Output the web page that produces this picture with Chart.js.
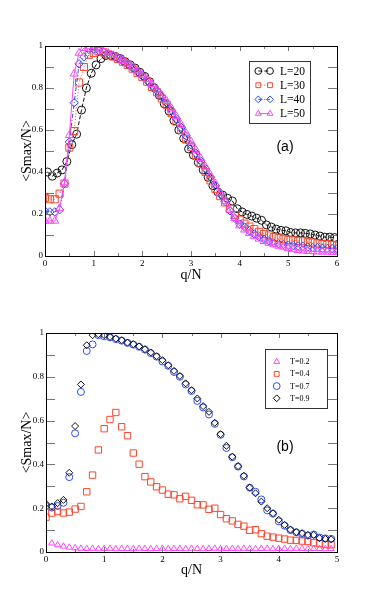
<!DOCTYPE html>
<html>
<head>
<meta charset="utf-8">
<script src="https://cdn.jsdelivr.net/npm/chart.js@4.4.0/dist/chart.umd.min.js"></script>
<style>
html, body { margin: 0; padding: 0; background: #fff; }
#wrap { position: relative; width: 382px; height: 602px; }
canvas { position: absolute; left: 0; }
</style>
</head>
<body>
<div id="wrap">
<canvas id="chartA" width="382" height="300" style="top:0;width:382px;height:300px"></canvas>
<canvas id="chartB" width="382" height="302" style="top:300px;width:382px;height:302px"></canvas>
</div>
<script>
// ---- panel (a): <Smax/N> vs q/N for several L ----
var labelsA = ["L=20", "L=30", "L=40", "L=50"];
var xTicksA = [0, 1, 2, 3, 4, 5, 6];

// L=20 sampled at q = 0.05, 0.15, ... 5.95
var smaxL20 = [0.40, 0.38, 0.395, 0.41, 0.45, 0.53, 0.58, 0.695, 0.80, 0.87,
    0.91, 0.94, 0.955, 0.955, 0.95, 0.94, 0.925, 0.91, 0.895, 0.875,
    0.855, 0.83, 0.80, 0.765, 0.725, 0.69, 0.645, 0.60, 0.56, 0.51,
    0.48, 0.445, 0.41, 0.375, 0.335, 0.305, 0.29, 0.275, 0.262, 0.225,
    0.21, 0.198, 0.19, 0.18, 0.17, 0.148, 0.138, 0.128, 0.122, 0.12,
    0.112, 0.11, 0.11, 0.108, 0.105, 0.10, 0.095, 0.09, 0.09, 0.088];
// the others at q = 0, 0.1, ... 6
var smaxL30 = [0.276, 0.27, 0.27, 0.297, 0.345, 0.516, 0.595, 0.826, 0.90, 0.958,
    0.967, 0.975, 0.97, 0.96, 0.95, 0.938, 0.925, 0.91, 0.892, 0.872,
    0.852, 0.83, 0.805, 0.78, 0.75, 0.72, 0.68, 0.64, 0.60, 0.555,
    0.52, 0.48, 0.44, 0.40, 0.36, 0.32, 0.285, 0.255, 0.225, 0.195,
    0.173, 0.154, 0.14, 0.128, 0.115, 0.105, 0.098, 0.09, 0.085, 0.08,
    0.077, 0.075, 0.072, 0.07, 0.066, 0.064, 0.06, 0.058, 0.056, 0.053, 0.05];
var smaxL40 = [0.214, 0.21, 0.21, 0.22, 0.345, 0.543, 0.73, 0.915, 0.948, 0.984,
    0.985, 0.98, 0.972, 0.963, 0.953, 0.941, 0.927, 0.912, 0.895, 0.877,
    0.857, 0.835, 0.812, 0.786, 0.758, 0.728, 0.692, 0.653, 0.612, 0.572,
    0.53, 0.49, 0.452, 0.415, 0.375, 0.335, 0.295, 0.26, 0.215, 0.18,
    0.152, 0.138, 0.12, 0.105, 0.092, 0.08, 0.072, 0.062, 0.058, 0.055,
    0.052, 0.05, 0.048, 0.046, 0.043, 0.04, 0.039, 0.037, 0.036, 0.035, 0.034];
var smaxL50 = [0.167, 0.167, 0.167, 0.227, 0.35, 0.575, 0.868, 0.967, 0.99, 1.0,
    0.99, 0.983, 0.975, 0.966, 0.956, 0.945, 0.931, 0.916, 0.90, 0.882,
    0.862, 0.841, 0.818, 0.793, 0.766, 0.737, 0.702, 0.665, 0.625, 0.585,
    0.545, 0.505, 0.465, 0.425, 0.385, 0.345, 0.30, 0.26, 0.22, 0.18,
    0.145, 0.125, 0.108, 0.095, 0.082, 0.07, 0.062, 0.055, 0.048, 0.043,
    0.037, 0.032, 0.028, 0.025, 0.023, 0.022, 0.021, 0.02, 0.02, 0.019, 0.019];

// ---- panel (b): <Smax/N> vs q/N for several T ----
var labelsB = ["T=0.2", "T=0.4", "T=0.7", "T=0.9"];
var xTicksB = [0, 1, 2, 3, 4, 5];

// T=0.2 sampled at q = 0.1 ... 4.9
var smaxT02 = [0.04, 0.032, 0.026, 0.021, 0.018, 0.016, 0.015, 0.016, 0.014, 0.015,
    0.016, 0.014, 0.015, 0.015, 0.014, 0.016, 0.015, 0.014, 0.015, 0.016,
    0.014, 0.015, 0.015, 0.014, 0.016, 0.015, 0.014, 0.015, 0.016, 0.014,
    0.015, 0.015, 0.014, 0.016, 0.015, 0.014, 0.015, 0.016, 0.014, 0.015,
    0.015, 0.014, 0.016, 0.015, 0.014, 0.015, 0.015, 0.014, 0.015];
// the others at q = 0 ... 4.9
var smaxT04 = [0.159, 0.178, 0.185, 0.178, 0.182, 0.196, 0.208, 0.275, 0.351, 0.466,
    0.563, 0.605, 0.637, 0.572, 0.531, 0.452, 0.401, 0.344, 0.32, 0.298,
    0.283, 0.264, 0.261, 0.243, 0.254, 0.236, 0.216, 0.215, 0.195, 0.20,
    0.171, 0.152, 0.142, 0.126, 0.118, 0.099, 0.102, 0.084, 0.072, 0.068,
    0.063, 0.059, 0.054, 0.053, 0.05, 0.048, 0.042, 0.038, 0.034, 0.033];
var smaxT07 = [0.21, 0.203, 0.21, 0.225, 0.342, 0.542, 0.731, 0.918, 0.948, 0.99,
    0.985, 0.98, 0.972, 0.965, 0.955, 0.947, 0.937, 0.924, 0.908, 0.892,
    0.87, 0.85, 0.822, 0.80, 0.765, 0.735, 0.69, 0.66, 0.628, 0.585,
    0.535, 0.475, 0.433, 0.39, 0.345, 0.294, 0.275, 0.24, 0.19, 0.175,
    0.14, 0.12, 0.10, 0.09, 0.083, 0.075, 0.08, 0.066, 0.062, 0.06];
var smaxT09 = [0.22, 0.208, 0.223, 0.238, 0.362, 0.575, 0.765, 0.944, 0.99, 0.994,
    0.99, 0.982, 0.974, 0.967, 0.956, 0.949, 0.939, 0.926, 0.911, 0.894,
    0.876, 0.853, 0.827, 0.804, 0.77, 0.739, 0.701, 0.666, 0.64, 0.59,
    0.538, 0.485, 0.435, 0.392, 0.348, 0.294, 0.268, 0.23, 0.20, 0.177,
    0.147, 0.124, 0.102, 0.091, 0.086, 0.078, 0.078, 0.063, 0.06, 0.058];

var BLACK = "#111111";
var RED = "rgb(255,70,45)";
var BLUE = "rgb(45,75,255)";
var MAGENTA = "rgb(255,70,255)";
var SERIF = "'Liberation Serif', 'DejaVu Serif', serif";
var SANS = "'Liberation Sans', Arial, sans-serif";

// q grid: start + i*0.1
function points(start, values) {
    var out = [];
    for (var i = 0; i < values.length; i++) {
        out.push({ x: Math.round((start + i * 0.1) * 100) / 100, y: values[i] });
    }
    return out;
}

function drawMarker(ctx, style, r, x, y) {
    if (Chart.helpers && Chart.helpers.drawPoint) {
        Chart.helpers.drawPoint(ctx, { pointStyle: style, radius: r, rotation: 0, borderWidth: 1 }, x, y);
        return;
    }
    ctx.beginPath();
    ctx.arc(x, y, r, 0, Math.PI * 2);
    ctx.stroke();
}

// inward ticks on all four sides plus the frame
var frameTicks = {
    id: 'frameTicks',
    afterDatasetsDraw: function (chart, args, opts) {
        var ctx = chart.ctx, a = chart.chartArea;
        var xs = chart.scales.x, ys = chart.scales.y;
        ctx.save();
        ctx.lineWidth = 1;
        ctx.strokeStyle = "#777";
        ctx.beginPath();
        var n = Math.round((xs.max - xs.min) / 0.5);
        for (var i = 0; i <= n; i++) {
            var v = xs.min + i * 0.5;
            var px = Math.round(xs.getPixelForValue(v)) + 0.5;
            var len = (i % 2 === 0) ? 5 : 3;
            ctx.moveTo(px, a.bottom); ctx.lineTo(px, a.bottom - len);
            ctx.moveTo(px, a.top); ctx.lineTo(px, a.top + len);
        }
        for (var j = 0; j <= 10; j++) {
            var py = Math.round(ys.getPixelForValue(j / 10)) + 0.5;
            ctx.moveTo(a.left, py); ctx.lineTo(a.left + 9, py);
            ctx.moveTo(a.right, py); ctx.lineTo(a.right - 9, py);
        }
        ctx.stroke();
        ctx.strokeStyle = "#000";
        ctx.strokeRect(a.left + 0.5, a.top + 0.5, a.right - a.left, a.bottom - a.top);
        ctx.restore();
    }
};

// legend box inside the plot and the panel tag
var boxLegend = {
    id: 'boxLegend',
    afterDraw: function (chart, args, opts) {
        var ctx = chart.ctx;
        ctx.save();
        ctx.fillStyle = "#fff";
        ctx.fillRect(opts.x, opts.y, opts.w, opts.h);
        ctx.strokeStyle = "#333";
        ctx.lineWidth = 1;
        ctx.strokeRect(opts.x + 0.5, opts.y + 0.5, opts.w, opts.h);
        var ds = chart.data.datasets;
        ctx.font = opts.font;
        ctx.textBaseline = "middle";
        ctx.textAlign = "left";
        for (var i = 0; i < ds.length; i++) {
            var y = opts.y + opts.first + i * opts.step;
            ctx.strokeStyle = ds[i].pointBorderColor;
            ctx.fillStyle = "rgba(0,0,0,0)";
            if (opts.pair) {
                ctx.save();
                ctx.setLineDash(ds[i].borderDash || []);
                ctx.beginPath();
                ctx.moveTo(opts.m1, y); ctx.lineTo(opts.m2, y);
                ctx.stroke();
                ctx.restore();
                drawMarker(ctx, ds[i].pointStyle, opts.r, opts.m1, y);
                drawMarker(ctx, ds[i].pointStyle, opts.r, opts.m2, y);
            } else {
                drawMarker(ctx, ds[i].pointStyle, opts.r, opts.m1, y);
            }
            ctx.fillStyle = "#000";
            ctx.fillText(ds[i].label, opts.tx, y + 0.5);
        }
        ctx.font = "14px " + SANS;
        ctx.textAlign = "center";
        ctx.fillText(opts.tag, opts.tagX, opts.tagY);
        ctx.restore();
    }
};

function series(label, data, color, style, radius, dash, order, line) {
    return {
        label: label,
        data: data,
        showLine: line,
        borderColor: color,
        borderWidth: 1,
        borderDash: dash,
        tension: 0,
        pointStyle: style,
        pointRadius: radius,
        pointBorderColor: color,
        pointBackgroundColor: "rgba(0,0,0,0)",
        pointBorderWidth: 1,
        order: order
    };
}

function axes(xMax, xTicks, yWidth, xHeight, xTitlePad) {
    return {
        x: {
            type: 'linear', min: 0, max: xMax,
            afterBuildTicks: function (s) { s.ticks = xTicks.map(function (v) { return { value: v }; }); },
            afterFit: function (s) { s.height = xHeight; },
            grid: { display: false, drawTicks: false },
            border: { display: false },
            ticks: { autoSkip: false, maxRotation: 0, padding: 2, color: "#000", font: { family: SERIF, size: 9 } },
            title: { display: true, text: "q/N", color: "#000", font: { family: SERIF, size: 14, lineHeight: 1.2 }, padding: { top: 0, bottom: xTitlePad } }
        },
        y: {
            type: 'linear', min: 0, max: 1,
            afterFit: function (s) { s.width = yWidth; },
            grid: { display: false, drawTicks: false },
            border: { display: false },
            ticks: {
                stepSize: 0.2, padding: 2, color: "#000", font: { family: SERIF, size: 9 },
                callback: function (v) { return String(Math.round(v * 10) / 10); }
            },
            title: { display: true, text: "<Smax/N>", color: "#000", font: { family: SERIF, size: 14, lineHeight: 1.2 }, padding: { top: 18.6, bottom: 0 } }
        }
    };
}

new Chart("chartA", {
    type: "scatter",
    data: {
        datasets: [
            series(labelsA[0], points(0.05, smaxL20), BLACK, "circle", 4, [4, 2], 4, true),
            series(labelsA[1], points(0, smaxL30), RED, "rect", 5, [1, 2], 3, true),
            series(labelsA[2], points(0, smaxL40), BLUE, "rectRot", 4.2, [4, 2, 1, 2], 2, true),
            series(labelsA[3], points(0, smaxL50), MAGENTA, "triangle", 4.6, [], 1, true)
        ]
    },
    options: {
        responsive: false,
        animation: false,
        layout: { padding: { top: 46, right: 45, left: 0, bottom: 0 } },
        scales: axes(6, xTicksA, 45, 44, 16.6),
        plugins: {
            legend: { display: false },
            tooltip: { enabled: false },
            boxLegend: {
                x: 249, y: 61, w: 61, h: 62, first: 10, step: 14.2,
                pair: true, m1: 258.3, m2: 270, r: 3.4, tx: 280,
                font: "11.5px " + SERIF, tag: "(a)", tagX: 285, tagY: 147
            }
        }
    },
    plugins: [frameTicks, boxLegend]
});

new Chart("chartB", {
    type: "scatter",
    data: {
        datasets: [
            series(labelsB[0], points(0.1, smaxT02), MAGENTA, "triangle", 3.6, [], 4, false),
            series(labelsB[1], points(0, smaxT04), RED, "rect", 4.5, [], 3, false),
            series(labelsB[2], points(0, smaxT07), BLUE, "circle", 3.5, [], 2, false),
            series(labelsB[3], points(0, smaxT09), BLACK, "rectRot", 3.5, [], 1, false)
        ]
    },
    options: {
        responsive: false,
        animation: false,
        layout: { padding: { top: 33, right: 45, left: 0, bottom: 0 } },
        scales: axes(5, xTicksB, 46, 50, 23.6),
        plugins: {
            legend: { display: false },
            tooltip: { enabled: false },
            boxLegend: {
                x: 265, y: 49, w: 62, h: 59, first: 12.7, step: 12.2,
                pair: false, m1: 276.7, r: 3.4, tx: 290,
                font: "8px " + SERIF, tag: "(b)", tagX: 285, tagY: 147
            }
        }
    },
    plugins: [frameTicks, boxLegend]
});
</script>
</body>
</html>
